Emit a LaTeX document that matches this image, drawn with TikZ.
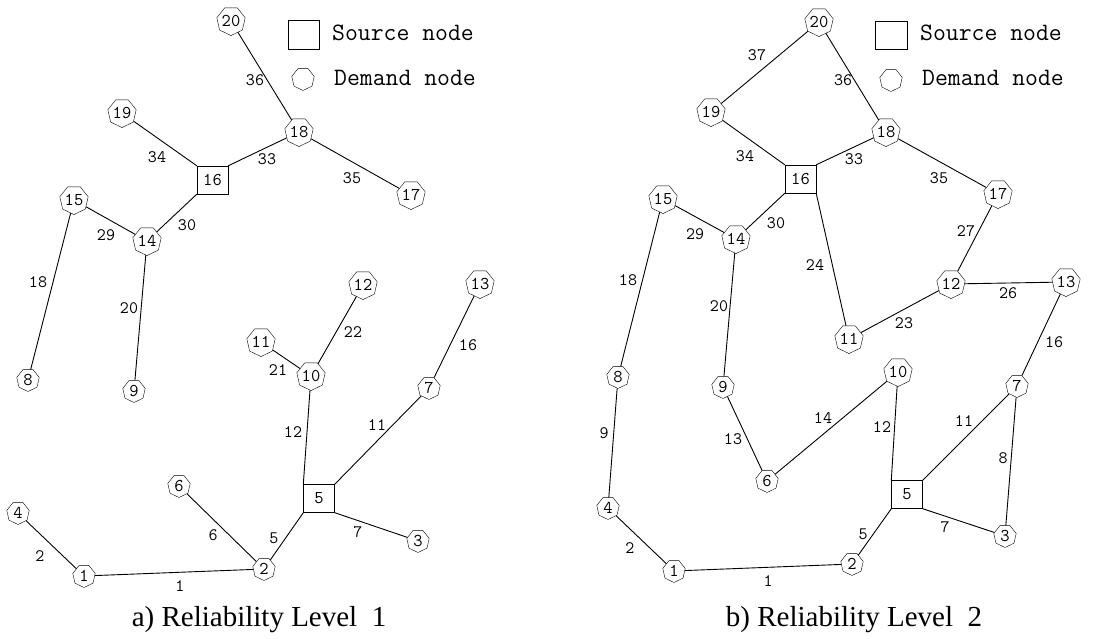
\documentclass[tikz,border=0pt]{standalone}
\usepackage{fontspec}
\setmainfont{Liberation Serif}
\usetikzlibrary{shapes.geometric}
\newcommand\numfont{\ttfamily\fontsize{18}{18}\selectfont}
\newcommand\labfont{\ttfamily\fontsize{17.5}{17.5}\selectfont}
\newcommand\legfont{\ttfamily\fontsize{25}{25}\selectfont}
\newcommand\capfont{\rmfamily\fontsize{29}{29}\selectfont}
\tikzset{
  dn/.style={regular polygon, regular polygon sides=7, shape border rotate=180, draw, minimum size=23pt, inner sep=0pt, font=\numfont},
  sn/.style={draw, minimum width=31pt, minimum height=28pt, inner sep=0pt, font=\numfont},
  lab/.style={font=\labfont, inner sep=0pt},
  leg/.style={font=\legfont, inner sep=0pt, anchor=west},
  captext/.style={font=\capfont, inner sep=0pt},
  pipe/.style={line width=0.9pt}
}
\begin{document}
\begin{tikzpicture}[x=1pt,y=-1pt]
\useasboundingbox (0,0) rectangle (1112,639);
% ---------------- panel a ----------------
\node[dn] (a20) at (231,21) {20};
\node[dn] (a19) at (122,113) {19};
\node[dn] (a18) at (299,132) {18};
\node[sn] (a16) at (212.5,180) {16};
\node[dn] (a17) at (411,195) {17};
\node[dn] (a15) at (74,200) {15};
\node[dn] (a14) at (147,241) {14};
\node[dn] (a12) at (363,285) {12};
\node[dn] (a13) at (480,284) {13};
\node[dn] (a8) at (28,380) {8};
\node[dn] (a9) at (134,391) {9};
\node[dn] (a11) at (261,342) {11};
\node[dn] (a10) at (311,376) {10};
\node[dn] (a7) at (429,388) {7};
\node[sn] (a5) at (319,498.5) {5};
\node[dn] (a6) at (179,486) {6};
\node[dn] (a4) at (18,513) {4};
\node[dn] (a3) at (418,541) {3};
\node[dn] (a2) at (264,569) {2};
\node[dn] (a1) at (84,576) {1};
\begin{scope}[pipe]
\draw (a20) -- (a18);
\draw (a19) -- (a16.north west);
\draw (a16.north east) -- (a18);
\draw (a18) -- (a17);
\draw (a15) -- (a14);
\draw (a14) -- (a16.south west);
\draw (a15) -- (a8);
\draw (a14) -- (a9);
\draw (a11) -- (a10);
\draw (a10) -- (a12);
\draw (a10) -- (a5.north west);
\draw (a5.north east) -- (a7);
\draw (a7) -- (a13);
\draw (a6) -- (a2);
\draw (a2) -- (a5.south west);
\draw (a5.south east) -- (a3);
\draw (a4) -- (a1);
\draw (a1) -- (a2);
\end{scope}
\node[lab] (la36) at (255,80) {36};
\node[lab] (la34) at (157,157) {34};
\node[lab] (la33) at (267,159) {33};
\node[lab] (la35) at (352,178) {35};
\node[lab] (la29) at (106,235) {29};
\node[lab] (la30) at (187,225) {30};
\node[lab] (la18) at (38,282) {18};
\node[lab] (la20) at (129,308) {20};
\node[lab] (la22) at (353,332) {22};
\node[lab] (la16) at (468,345) {16};
\node[lab] (la21) at (278,370) {21};
\node[lab] (la12) at (293,432) {12};
\node[lab] (la11) at (377,425) {11};
\node[lab] (la6) at (213,535) {6};
\node[lab] (la5) at (274,538) {5};
\node[lab] (la7) at (358,532) {7};
\node[lab] (la2) at (40,556) {2};
\node[lab] (la1) at (180,586) {1};
% legend a
\node[draw, minimum width=31pt, minimum height=29pt, inner sep=0pt] (lsa) at (303.5,34.5) {};
\node[leg] (lsta) at (332,33) {Source node};
\node[regular polygon, regular polygon sides=7, shape border rotate=180, draw, minimum size=23pt, inner sep=0pt] (lda) at (303,79) {};
\node[leg] (ldta) at (334,78) {Demand node};
\node[captext] (capa) at (259,620) {a) Reliability Level\ \ 1};
% ---------------- panel b ----------------
\node[dn] (b20) at (819,22) {20};
\node[dn] (b19) at (711,112) {19};
\node[dn] (b18) at (886,132) {18};
\node[sn] (b16) at (800.5,179) {16};
\node[dn] (b17) at (998,194) {17};
\node[dn] (b15) at (663,199) {15};
\node[dn] (b14) at (736,239) {14};
\node[dn] (b12) at (951,284) {12};
\node[dn] (b13) at (1066,282) {13};
\node[dn] (b11) at (849,339) {11};
\node[dn] (b8) at (618,377) {8};
\node[dn] (b9) at (723,387) {9};
\node[dn] (b10) at (898,372) {10};
\node[dn] (b7) at (1017,386) {7};
\node[dn] (b6) at (767,481) {6};
\node[sn] (b5) at (907,494.5) {5};
\node[dn] (b4) at (608,508) {4};
\node[dn] (b3) at (1005,536) {3};
\node[dn] (b2) at (852,564) {2};
\node[dn] (b1) at (674,571) {1};
\begin{scope}[pipe]
\draw (b20) -- (b19);
\draw (b20) -- (b18);
\draw (b19) -- (b16.north west);
\draw (b16.north east) -- (b18);
\draw (b18) -- (b17);
\draw (b15) -- (b14);
\draw (b14) -- (b16.south west);
\draw (b16.south east) -- (b11);
\draw (b17) -- (b12);
\draw (b11) -- (b12);
\draw (b12) -- (b13);
\draw (b13) -- (b7);
\draw (b15) -- (b8);
\draw (b8) -- (b4);
\draw (b14) -- (b9);
\draw (b9) -- (b6);
\draw (b6) -- (b10);
\draw (b10) -- (b5.north west);
\draw (b5.north east) -- (b7);
\draw (b7) -- (b3);
\draw (b5.south east) -- (b3);
\draw (b2) -- (b5.south west);
\draw (b4) -- (b1);
\draw (b1) -- (b2);
\end{scope}
\node[lab] (lb37) at (757,55) {37};
\node[lab] (lb36) at (843,80) {36};
\node[lab] (lb34) at (745,156) {34};
\node[lab] (lb33) at (854,159) {33};
\node[lab] (lb35) at (939,178) {35};
\node[lab] (lb30) at (776,223) {30};
\node[lab] (lb29) at (695,234) {29};
\node[lab] (lb27) at (966,231) {27};
\node[lab] (lb24) at (815,265) {24};
\node[lab] (lb18) at (628,280) {18};
\node[lab] (lb26) at (1008,293) {26};
\node[lab] (lb20) at (719,306) {20};
\node[lab] (lb23) at (904,323) {23};
\node[lab] (lb16) at (1054,342) {16};
\node[lab] (lb9) at (604,433) {9};
\node[lab] (lb14) at (823,418) {14};
\node[lab] (lb12) at (882,427) {12};
\node[lab] (lb11) at (964,421) {11};
\node[lab] (lb13) at (733,439) {13};
\node[lab] (lb8) at (1003,458) {8};
\node[lab] (lb5) at (863,534) {5};
\node[lab] (lb7) at (945,527) {7};
\node[lab] (lb2) at (630,548) {2};
\node[lab] (lb1) at (768,581) {1};
% legend b
\node[draw, minimum width=32pt, minimum height=28pt, inner sep=0pt] (lsb) at (891,35) {};
\node[leg] (lstb) at (920,33) {Source node};
\node[regular polygon, regular polygon sides=7, shape border rotate=180, draw, minimum size=23pt, inner sep=0pt] (ldb) at (891,80) {};
\node[leg] (ldtb) at (922,78) {Demand node};
\node[captext] (capb) at (854,620) {b) Reliability Level\ \ 2};
\end{tikzpicture}
\end{document}
